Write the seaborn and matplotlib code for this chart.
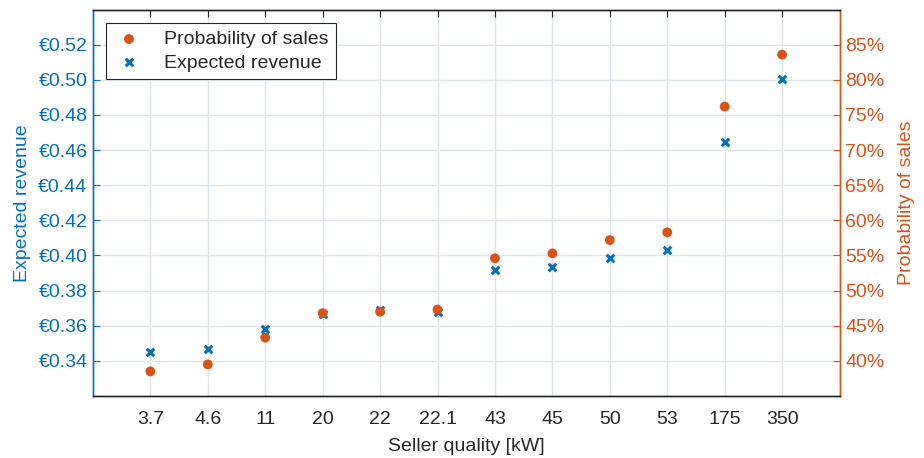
import matplotlib
matplotlib.use("Agg")
import matplotlib.pyplot as plt
import seaborn as sns
import pandas as pd
from matplotlib.ticker import FuncFormatter

# values
quality = ["3.7", "4.6", "11", "20", "22", "22.1", "43", "45", "50", "53", "175", "350"]
revenue = [0.3453, 0.3469, 0.3581, 0.3669, 0.3688, 0.3678, 0.3920, 0.3935, 0.3983, 0.4030, 0.4647, 0.5006]
prob_sales = [38.5, 39.5, 43.3, 46.8, 47.0, 47.3, 54.6, 55.3, 57.2, 58.3, 76.2, 83.6]

BLUE = "#0072BD"
ORANGE = "#D95319"
GRID = "#dfe5ea"
DARK = "#262626"
FS = 14

sns.set_style("white")
plt.rcParams["font.family"] = ["Liberation Sans", "DejaVu Sans"]
plt.rcParams["font.size"] = FS

df = pd.DataFrame({"quality": quality, "revenue": revenue, "prob": prob_sales})

fig = plt.figure(figsize=(9.24, 4.58), dpi=100)
ax = fig.add_axes([0.1006, 0.1354, 0.8080, 0.8436])
ax2 = ax.twinx()

sns.scatterplot(data=df, x="quality", y="revenue", ax=ax, marker="x", color=BLUE,
                s=30, linewidth=2.2, label="Expected revenue", legend=False, zorder=3)
sns.scatterplot(data=df, x="quality", y="prob", ax=ax2, marker="o", color=ORANGE,
                s=50, edgecolor="none", label="Probability of sales", legend=False, zorder=3)

ax.set_xlim(-1, len(quality))
ax.set_ylim(0.32, 0.54)
ax2.set_ylim(35, 90)

ax.set_yticks([0.34 + 0.02 * i for i in range(10)])
ax.yaxis.set_major_formatter(FuncFormatter(lambda v, p: f"€{v:.2f}"))
ax2.set_yticks(list(range(40, 90, 5)))
ax2.yaxis.set_major_formatter(FuncFormatter(lambda v, p: f"{v:.0f}%"))

ax.grid(True, color=GRID, linewidth=1)
ax.set_axisbelow(True)

ax.tick_params(axis="x", direction="in", length=5, top=True, colors=DARK,
               labelsize=FS, pad=11)
ax.tick_params(axis="y", direction="in", length=5, colors=BLUE, labelsize=FS, pad=4)
ax2.tick_params(axis="y", direction="in", length=5, colors=ORANGE, labelsize=FS, pad=4)

for a in (ax, ax2):
    for side in ("top", "bottom"):
        a.spines[side].set_color(DARK)
    a.spines["left"].set_color(BLUE)
    a.spines["right"].set_color(ORANGE)
    for sp in a.spines.values():
        sp.set_linewidth(1)

ax.set_xlabel("Seller quality [kW]", fontsize=FS, color=DARK, labelpad=7)
ax.set_ylabel("Expected revenue", fontsize=FS, color=BLUE, labelpad=5)
ax2.set_ylabel("Probability of sales", fontsize=FS, color=ORANGE, labelpad=10)

h1, l1 = ax.get_legend_handles_labels()
h2, l2 = ax2.get_legend_handles_labels()
leg = ax2.legend(h2 + h1, l2 + l1, loc="upper left", bbox_to_anchor=(0.017, 0.966),
                 borderaxespad=0, fontsize=FS, frameon=True, fancybox=False,
                 edgecolor=DARK, framealpha=1, borderpad=0.4, handletextpad=1.0,
                 labelspacing=0.3, handlelength=1.6)
leg.get_frame().set_linewidth(0.8)

fig.savefig("out.png", dpi=100)
